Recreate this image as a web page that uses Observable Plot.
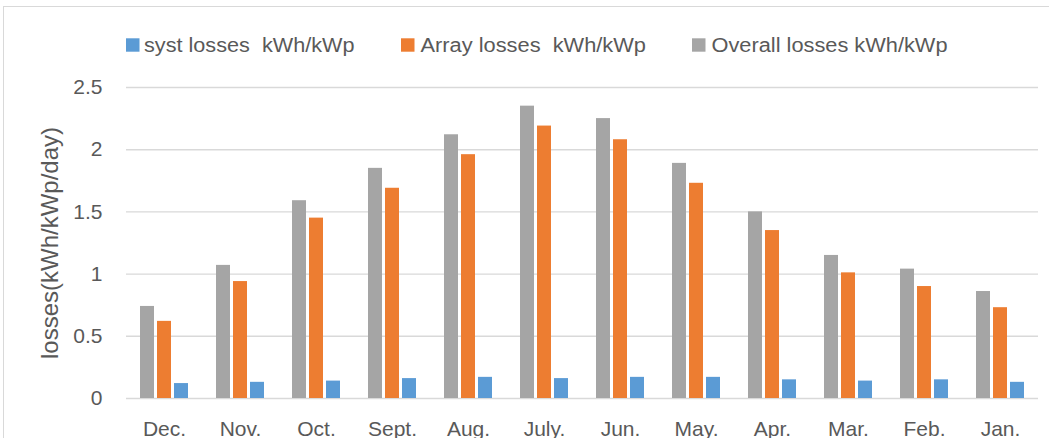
<!DOCTYPE html>
<html>
<head>
<meta charset="utf-8">
<script src="https://cdn.jsdelivr.net/npm/d3@7"></script>
<script src="https://cdn.jsdelivr.net/npm/@observablehq/plot@0.6"></script>
<style>
  html, body { margin: 0; padding: 0; background: #fff; overflow: hidden; }
  #frame { position: absolute; left: 3px; top: 6px; width: 1200px; height: 600px; border: 1px solid #d9d9d9; box-sizing: border-box; }
  #legend { position: absolute; left: 0; top: 0; width: 1049px; height: 60px; }
  #chart { position: absolute; left: 0; top: 60px; }
  #legend text { white-space: pre; font-family: "Liberation Sans", Arial, sans-serif; font-size: 20px; fill: #595959; }
</style>
</head>
<body>
<div id="frame"></div>
<svg id="legend" width="1049" height="60"></svg>
<div id="chart"></div>
<script>
const months = ["Dec.","Nov.","Oct.","Sept.","Aug.","July.","Jun.","May.","Apr.","Mar.","Feb.","Jan."];
const overallLosses = [0.74,1.07,1.59,1.85,2.12,2.35,2.25,1.89,1.50,1.15,1.04,0.86];
const arrayLosses   = [0.62,0.94,1.45,1.69,1.96,2.19,2.08,1.73,1.35,1.01,0.90,0.73];
const systLosses    = [0.12,0.13,0.14,0.16,0.17,0.16,0.17,0.17,0.15,0.14,0.15,0.13];
const seriesNames = ["syst losses  kWh/kWp","Array losses  kWh/kWp","Overall losses kWh/kWp"];
const seriesColors = ["#5b9bd5","#ed7d31","#a5a5a5"];
const barOrder = ["Overall losses kWh/kWp","Array losses  kWh/kWp","syst losses  kWh/kWp"];
const yTicks = [0,0.5,1,1.5,2,2.5];
const yLabel = "losses(kWh/kWp/day)";

const valuesBySeries = {
  "syst losses  kWh/kWp": systLosses,
  "Array losses  kWh/kWp": arrayLosses,
  "Overall losses kWh/kWp": overallLosses
};
const data = [];
months.forEach((m, i) => {
  barOrder.forEach(s => data.push({month: m, series: s, value: valuesBySeries[s][i]}));
});

const chart = Plot.plot({
  width: 1049,
  height: 378,
  marginTop: 27,
  marginBottom: 40,
  marginLeft: 126,
  marginRight: 11,
  style: {fontFamily: "Liberation Sans, Arial, sans-serif", fontSize: "21px", color: "#595959", background: "transparent", overflow: "visible"},
  fx: {domain: months, paddingInner: 0.37, paddingOuter: 0.185, label: null},
  x: {domain: barOrder, paddingInner: 0.2, paddingOuter: 0, axis: null},
  y: {domain: [0, 2.5], label: null},
  color: {domain: seriesNames, range: seriesColors},
  marks: [
    Plot.ruleY(yTicks, {y: d => d, stroke: "#d9d9d9", strokeWidth: 1.4, insetLeft: -14, insetRight: -14}),
    Plot.barY(data, {fx: "month", x: "series", y: "value", fill: "series"}),
    Plot.axisFx({anchor: "bottom", tickSize: 0, tickPadding: 23, label: null}),
    Plot.axisY({ticks: yTicks, tickSize: 0, tickPadding: 38, tickFormat: d => String(d), label: null}),
    Plot.axisY({ticks: [], label: yLabel, labelAnchor: "center", labelArrow: "none", labelOffset: 100, fontSize: 24})
  ]
});
document.getElementById("chart").appendChild(chart);

// legend
const lg = d3.select("#legend");
const legendItems = [
  {name: seriesNames[0], color: seriesColors[0], sx: 126, tx: 144, tw: 210.5},
  {name: seriesNames[1], color: seriesColors[1], sx: 401, tx: 420.5, tw: 225.5},
  {name: seriesNames[2], color: seriesColors[2], sx: 692, tx: 711.5, tw: 236}
];
legendItems.forEach(it => {
  lg.append("rect").attr("x", it.sx).attr("y", 38.3).attr("width", 13.5).attr("height", 13.4).attr("fill", it.color);
  lg.append("text").attr("x", it.tx).attr("y", 51.7)
    .attr("textLength", it.tw).attr("lengthAdjust", "spacingAndGlyphs")
    .text(it.name);
});
</script>
</body>
</html>
